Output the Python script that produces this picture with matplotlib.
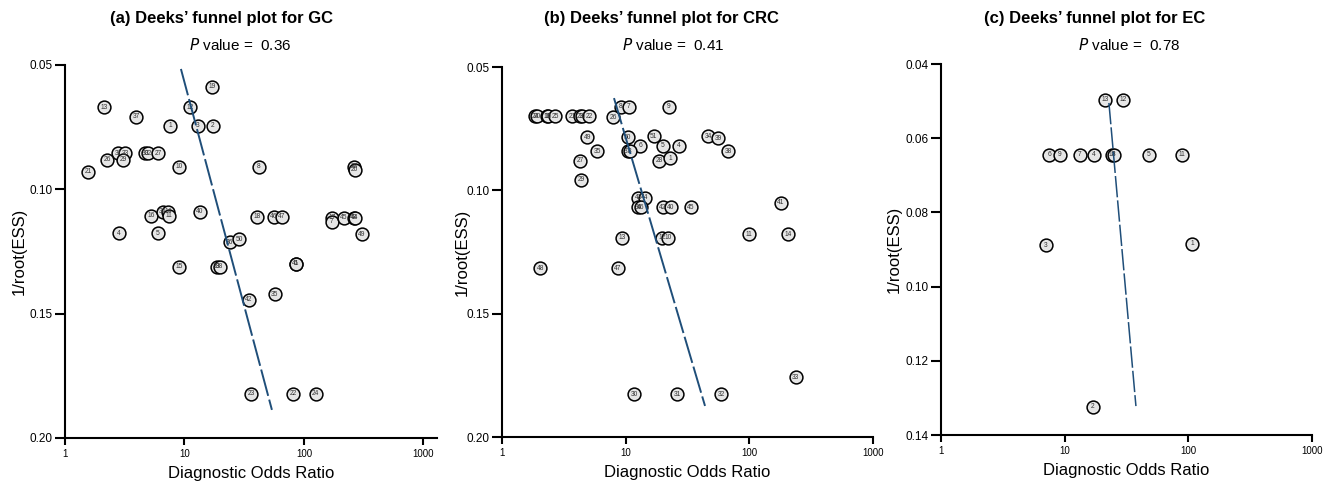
import numpy as np
import matplotlib.pyplot as plt

plt.rcParams['font.family'] = ['Liberation Sans', 'DejaVu Sans']

# (a) GC studies: label, diagnostic odds ratio, 1/root(ESS)
gc_labels = [13, 37, 1, 12, 19, 3, 2, 31, 33, 26, 29, 30, 32, 27, 10, 8, 21, 28, 20,
             16, 34, 14, 11, 40, 4, 5, 18, 46, 47, 17, 7, 45, 43, 44, 49, 36, 50,
             15, 39, 38, 41, 6, 42, 35, 23, 22, 24]
gc_dor = [2.12, 3.93, 7.56, 11.1, 17.0, 13.0, 17.3, 2.78, 3.18, 2.25, 3.06, 4.7, 5.0, 6.0,
          9.0, 42.0, 1.56, 262, 267, 5.24, 6.61, 7.28, 7.42, 13.5, 2.83, 6.0, 40.4, 56.1,
          65.5, 171, 171, 216, 262, 268, 306, 24.0, 28.6, 9.0, 18.7, 19.8, 85.5, 85.7,
          34.7, 57.2, 36.0, 80.9, 126]
gc_ess = [0.0669, 0.0709, 0.0745, 0.0669, 0.0588, 0.0745, 0.0745, 0.0854, 0.0854, 0.0882,
          0.0882, 0.0854, 0.0854, 0.0854, 0.0910, 0.0910, 0.0930, 0.0910, 0.0922, 0.1107,
          0.1091, 0.1091, 0.1107, 0.1091, 0.1176, 0.1176, 0.1111, 0.1111, 0.1111, 0.1115,
          0.1131, 0.1115, 0.1115, 0.1115, 0.1180, 0.1212, 0.1200, 0.1312, 0.1312, 0.1312,
          0.1300, 0.1300, 0.1445, 0.1421, 0.1823, 0.1823, 0.1823]
gc_line_dor = [9.35, 54.0]
gc_line_ess = [0.0516, 0.1887]

# (b) CRC studies
crc_labels = [24, 20, 18, 15, 25, 21, 23, 16, 22, 26, 8, 7, 9, 49, 35, 27, 29, 50, 6,
              37, 3, 51, 5, 4, 28, 1, 34, 39, 38, 43, 44, 36, 46, 42, 40, 45, 41, 13,
              12, 10, 11, 14, 48, 47, 30, 31, 32, 33]
crc_dor = [1.85, 1.92, 2.31, 2.35, 2.68, 3.68, 4.27, 4.43, 5.05, 7.89, 9.16, 10.6, 22.4,
           4.87, 5.86, 4.27, 4.35, 10.4, 13.1, 10.4, 10.8, 16.9, 20.0, 27.0, 18.6, 22.8,
           46.3, 55.7, 67.1, 12.6, 14.3, 12.6, 13.3, 20.0, 23.2, 33.7, 180, 9.33, 19.7,
           22.0, 99.3, 205, 2.03, 8.67, 11.7, 26.0, 58.9, 238]
crc_ess = [0.0699, 0.0699, 0.0699, 0.0699, 0.0699, 0.0699, 0.0699, 0.0699, 0.0699, 0.0703,
           0.0662, 0.0662, 0.0662, 0.0784, 0.0841, 0.0881, 0.0958, 0.0784, 0.0820, 0.0841,
           0.0841, 0.0780, 0.0820, 0.0820, 0.0881, 0.0869, 0.0780, 0.0788, 0.0841, 0.1031,
           0.1031, 0.1068, 0.1068, 0.1068, 0.1068, 0.1068, 0.1051, 0.1193, 0.1193, 0.1193,
           0.1177, 0.1177, 0.1315, 0.1315, 0.1826, 0.1826, 0.1826, 0.1757]
crc_line_dor = [8.04, 43.8]
crc_line_ess = [0.0626, 0.1874]

# (c) EC studies
ec_labels = [13, 12, 6, 9, 7, 4, 10, 8, 5, 11, 3, 1, 2]
ec_dor = [21.2, 29.6, 7.47, 9.16, 13.3, 17.3, 24.1, 25.0, 48.0, 88.8, 7.06, 107, 16.9]
ec_ess = [0.0497, 0.0497, 0.0645, 0.0645, 0.0645, 0.0645, 0.0645, 0.0645, 0.0645, 0.0645,
          0.0888, 0.0885, 0.1324]
ec_line_dor = [22.8, 37.7]
ec_line_ess = [0.0505, 0.1322]

titles = ["(a) Deeks\u2019 funnel plot for GC", "(b) Deeks\u2019 funnel plot for CRC",
          "(c) Deeks\u2019 funnel plot for EC"]
p_values = ["0.36", "0.41", "0.78"]


def funnel(ax, labels, dor, ess, line_x, line_y, xmax, ylim, yticks, ylab_x, line_w):
    ax.scatter(dor, ess, s=85, facecolor='#e6e6e6', edgecolor='black', linewidth=1.1,
               zorder=3, clip_on=False)
    for lab, x, y in zip(labels, dor, ess):
        ax.text(x, y, str(lab), fontsize=4.8, ha='center', va='center', zorder=4,
                color='#333333')
    ax.plot(line_x, line_y, color='#1f4e79', lw=line_w, dashes=(14, 2), zorder=5)
    ax.set_xscale('log')
    ax.set_xlim(1, xmax)
    ax.set_ylim(ylim[1], ylim[0])
    ax.set_xticks([1, 10, 100, 1000])
    ax.set_xticklabels(['1', '10', '100', '1000'])
    ax.minorticks_off()
    ax.set_yticks(yticks)
    ax.set_yticklabels(['%.2f' % t for t in yticks])
    for s in ['top', 'right']:
        ax.spines[s].set_visible(False)
    for s in ['left', 'bottom']:
        ax.spines[s].set_linewidth(1.5)
    ax.tick_params(axis='y', length=7, width=1.5, pad=2, labelsize=8.5)
    ax.tick_params(axis='x', length=5, width=1.5, pad=3, labelsize=7)
    ax.set_xlabel('Diagnostic Odds Ratio', fontsize=12)
    ax.set_ylabel('1/root(ESS)', fontsize=12)
    ax.xaxis.set_label_coords(0.5, -0.075)
    ax.yaxis.set_label_coords(ylab_x, 0.5)


fig = plt.figure(figsize=(13.31, 4.86), dpi=100)
ax1 = fig.add_axes([0.0488, 0.0988, 0.2795, 0.7675])
ax2 = fig.add_axes([0.3772, 0.1008, 0.2787, 0.7613])
ax3 = fig.add_axes([0.7070, 0.1049, 0.2787, 0.7634])

funnel(ax1, gc_labels, gc_dor, gc_ess, gc_line_dor, gc_line_ess, 1300,
       (0.05, 0.20), [0.05, 0.10, 0.15, 0.20], -0.102, 1.4)
funnel(ax2, crc_labels, crc_dor, crc_ess, crc_line_dor, crc_line_ess, 1000,
       (0.05, 0.20), [0.05, 0.10, 0.15, 0.20], -0.088, 1.4)
funnel(ax3, ec_labels, ec_dor, ec_ess, ec_line_dor, ec_line_ess, 1000,
       (0.04, 0.14), [0.04, 0.06, 0.08, 0.10, 0.12, 0.14], -0.105, 1.1)

# titles and p values in pixel positions of the figure
title_x = [221, 661, 1095]
pval_x = [240, 673, 1129]
for t, tx, p, px in zip(titles, title_x, p_values, pval_x):
    fig.text(tx / 1331, 1 - 18 / 486, t, fontsize=12, fontweight='bold', ha='center', va='center')
    fig.text(px / 1331, 1 - 45 / 486, r'$\it{P}$' + ' value =  ' + p, fontsize=11,
             ha='center', va='center')

plt.savefig('out.png', dpi=100)
